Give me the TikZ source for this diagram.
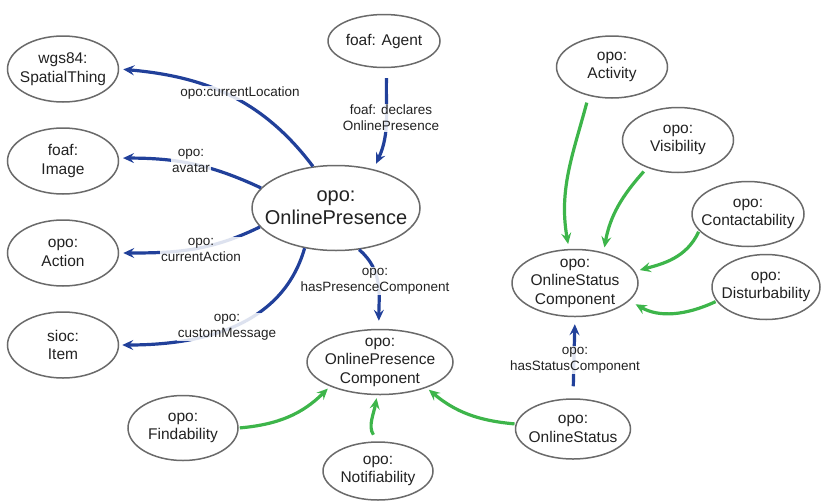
\documentclass[tikz,border=0pt]{standalone}
\usepackage{fontspec}
\setmainfont{Liberation Sans}
\usetikzlibrary{shapes.geometric,arrows.meta}
\definecolor{ogray}{HTML}{6A6A6A}
\definecolor{txt}{HTML}{222222}
\definecolor{blu}{HTML}{21409A}
\definecolor{grn}{HTML}{3DB54A}
\newcommand{\nodefnt}{\fontsize{15.5}{18.5}\selectfont}
\newcommand{\bigfnt}{\fontsize{20}{23}\selectfont}
\newcommand{\lblfnt}{\fontsize{13.5}{16}\selectfont}
\tikzset{
  onto/.style={ellipse, draw=ogray, line width=1.5pt, fill=white, inner xsep=-30pt, inner ysep=-16pt,
    align=center, font=\nodefnt, text=txt},
  sz/.style 2 args={minimum width=#1pt, minimum height=#2pt},
  bluearr/.style={draw=blu, line width=3.2pt, -{Stealth[length=11pt,width=10pt,inset=4pt]}},
  grnarr/.style={draw=grn, line width=3.2pt, -{Stealth[length=11pt,width=10pt,inset=4pt]}},
  lbl/.style={fill=white, fill opacity=0.85, text opacity=1, inner sep=1pt, align=center, font=\lblfnt, text=txt},
}
\begin{document}
\begin{tikzpicture}[x=1pt,y=-1pt]
\useasboundingbox (0,0) rectangle (821,501);
% nodes
\node[onto, sz={111}{66}] (sp) at (63,69) {wgs84:\\SpatialThing};
\node[onto, sz={111}{66}] (img) at (63,161) {foaf:\\Image};
\node[onto, sz={111}{66}] (act) at (63,253) {opo:\\Action};
\node[onto, sz={111}{66}] (item) at (63,345) {sioc:\\Item};
\node[onto, sz={112}{53}] (agent) at (384,41) {foaf: Agent};
\node[onto, sz={168}{85}, font=\bigfnt] (op) at (336,208) {opo:\\OnlinePresence};
\node[onto, sz={146}{65}] (opc) at (380,362) {opo:\\OnlinePresence\\Component};
\node[onto, sz={110}{65}] (find) at (183,428) {opo:\\Findability};
\node[onto, sz={110}{58}] (notif) at (378,471) {opo:\\Notifiability};
\node[onto, sz={115}{60}] (os) at (573,429) {opo:\\OnlineStatus};
\node[onto, sz={126}{67}] (osc) at (575,283) {opo:\\OnlineStatus\\Component};
\node[onto, sz={111}{62}] (activity) at (612,67) {opo:\\Activity};
\node[onto, sz={111}{65}] (vis) at (678,140) {opo:\\Visibility};
\node[onto, sz={112}{65}] (cont) at (748,214) {opo:\\Contactability};
\node[onto, sz={108}{65}] (dist) at (766,287) {opo:\\Disturbability};
% blue edges
\draw[bluearr, shorten >=4pt] (op.119) to[out=127, in=-5] (sp.east);
\draw[bluearr, shorten >=4pt] (op.165) to[out=155, in=0] (img.3);
\draw[bluearr, shorten >=4pt] (op.194) to[out=206, in=0] (act.east);
\draw[bluearr, shorten >=3pt] (op.232) to[out=254, in=0] (item.east);
\draw[bluearr, shorten <=10pt, shorten >=6pt] (agent.-84) to[out=-92, in=65] (op.46);
\draw[bluearr, shorten >=8pt] (op.-61) to[out=-40, in=90] (opc.92);
\draw[bluearr, shorten <=12pt, shorten >=7pt] (os.north) -- (osc.south);
% blue labels
\node[lbl] (l1) at (240,93) {opo:currentLocation};
\node[lbl] (l2) at (191,161) {opo:\\avatar};
\node[lbl] (l3) at (201,250) {opo:\\currentAction};
\node[lbl] (l4) at (227,327) {opo:\\customMessage};
\node[lbl] (l5) at (391,118) {foaf: declares\\OnlinePresence};
\node[lbl] (l6) at (375,281) {opo:\\hasPresenceComponent};
\node[lbl] (l7) at (575,360) {opo:\\hasStatusComponent};
% green edges
\draw[grnarr, shorten <=1pt, shorten >=3pt] (find.east) to[out=5, in=-135] (opc.206);
\draw[grnarr, shorten <=8pt, shorten >=3pt] (notif.north) to[out=125, in=-100] (opc.265);
\draw[grnarr, shorten <=1pt, shorten >=3pt] (os.175) to[out=175, in=-40] (opc.-29);
\draw[grnarr, shorten <=7pt, shorten >=5pt] (activity.-129) to[out=-105, in=100] (osc.100);
\draw[grnarr, shorten <=5pt, shorten >=5pt] (vis.222) to[out=-132, in=80] (osc.47);
\draw[grnarr, shorten <=1pt, shorten >=5pt] (cont.199) to[out=-115, in=15] (osc.11);
\draw[grnarr, shorten <=1pt, shorten >=7pt] (dist.196) to[out=-155, in=-30] (osc.-18);
\end{tikzpicture}
\end{document}
